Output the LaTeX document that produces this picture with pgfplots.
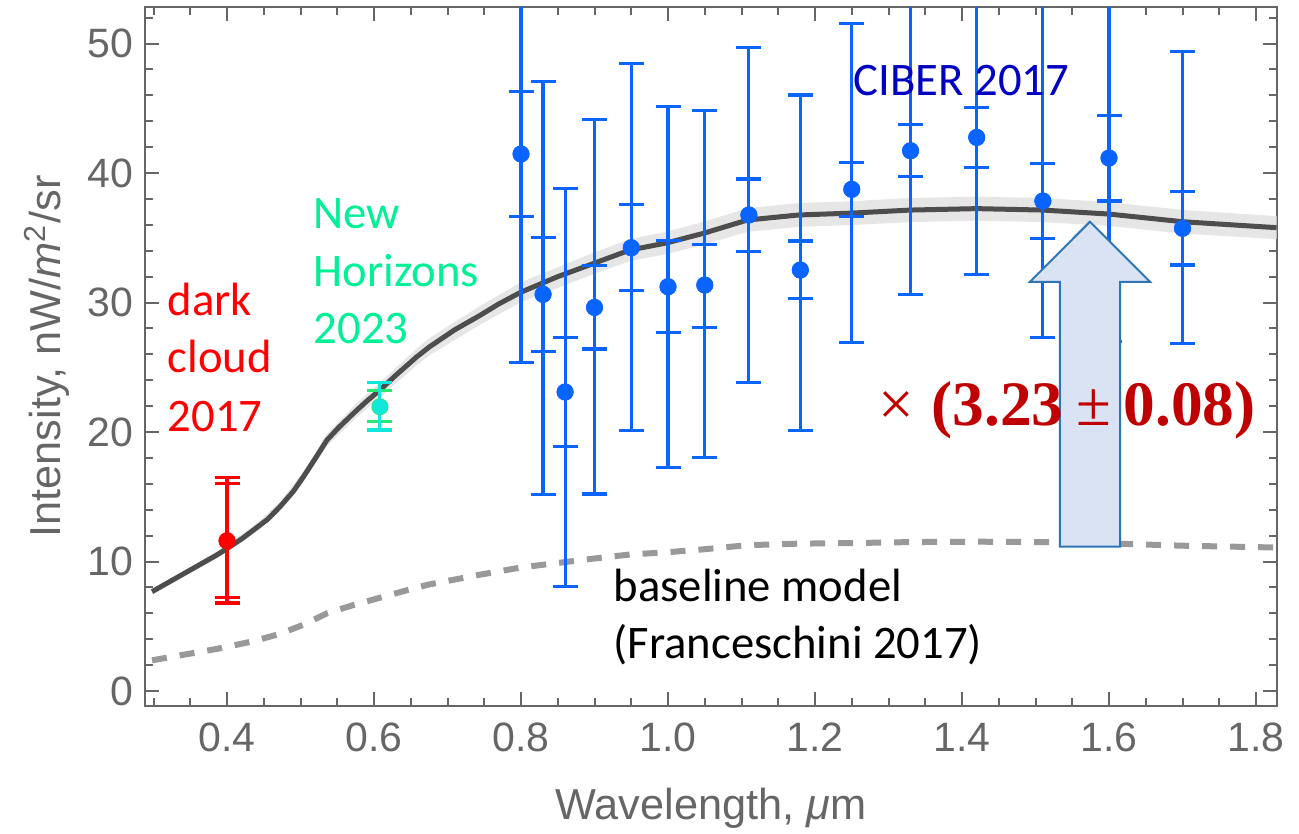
\documentclass[border=0pt]{standalone}
\usepackage{fontspec}
\setmainfont{Liberation Sans}
\newfontfamily\carlito{Carlito}
\newfontfamily\timesf{Liberation Serif}
\usepackage{pgfplots}
\pgfplotsset{compat=1.18}
\usepackage{pgfplotstable}

\definecolor{framegray}{HTML}{666666}
\definecolor{ciber}{HTML}{0A64FF}
\definecolor{curvegray}{HTML}{4D4D4D}
\definecolor{bandgray}{HTML}{E6E6E6}
\definecolor{dashgray}{HTML}{999999}
\definecolor{nhcyan}{HTML}{10E8DC}
\definecolor{nhgreen}{HTML}{28E870}
\definecolor{nhtext}{HTML}{00F096}
\definecolor{ciberdark}{HTML}{0000C0}
\definecolor{factorred}{HTML}{C00000}
\definecolor{arrowfill}{HTML}{DAE3F3}
\definecolor{arrowline}{HTML}{2E75B6}

% CIBER 2017: x, y, inner (+,-), outer (+,-)
\pgfplotstableread{
x    y     ip    im    op     om
0.80 41.47 4.81  4.84  16.10  16.09
0.83 30.63 4.40  4.43  16.45  15.43
0.86 23.09 4.21  4.22  15.72  15.03
0.90 29.62 3.22  3.21  14.50  14.41
0.95 34.23 3.32  3.32  14.24  14.13
1.00 31.22 3.55  3.52  13.90  13.97
1.05 31.35 3.15  3.25  13.51  13.35
1.11 36.76 2.78  2.84  12.92  12.96
1.18 32.51 2.24  2.19  13.51  12.41
1.25 38.74 2.09  2.11  12.82  11.81
1.33 41.72 2.01  2.01  11.78  11.09
1.42 42.75 2.29  2.31  11.25  10.60
1.51 37.84 2.91  2.91  17.16  10.53
1.60 41.16 3.29  3.32  14.84  14.16
1.70 35.73 2.83  2.83  13.64   8.88
}\ciberdata

\pgfplotsset{
  ebar/.style={only marks, mark=*, mark size=2.35pt,
    error bars/y dir=both, error bars/y explicit,
    error bars/error bar style={line width=0.95pt, #1},
    error bars/error mark options={rotate=90, mark size=3.75pt, line width=0.95pt, #1}},
}

\begin{document}
\begin{tikzpicture}
\path[use as bounding box] (-43.5pt,-38.1pt) rectangle (346.2pt,211.8pt);
\begin{axis}[
  scale only axis, width=339.6pt, height=209.7pt,
  xmin=0.2884, xmax=1.8286, ymin=-1.16, ymax=52.82,
  axis line style={framegray, line width=0.75pt},
  tick align=inside,
  xtick={0.4,0.6,0.8,1.0,1.2,1.4,1.6,1.8},
  xticklabels={0.4,0.6,0.8,1.0,1.2,1.4,1.6,1.8},
  minor xtick={0.3,0.35,0.45,0.5,0.55,0.65,0.7,0.75,0.85,0.9,0.95,1.05,1.1,1.15,1.25,1.3,1.35,1.45,1.5,1.55,1.65,1.7,1.75},
  ytick={0,10,20,30,40,50},
  yticklabels={0,10,20,30,40,50},
  minor ytick={2,4,6,8,12,14,16,18,22,24,26,28,32,34,36,38,42,44,46,48,52},
  major tick length=4.2pt, minor tick length=2.4pt,
  every tick/.style={framegray, line width=0.6pt},
  tick label style={font=\fontsize{12.3}{14}\selectfont, text=framegray},
  xticklabel style={yshift=-1.6pt},
  xlabel={Wavelength, \textit{μ}m},
  ylabel={Intensity, nW/\textit{m}\textsuperscript{2}/sr},
  xlabel style={at={(axis description cs:0.5,-0.1459)}, anchor=center, font=\fontsize{13}{15}\selectfont, text=framegray},
  ylabel style={at={(axis description cs:-0.0866,0.5)}, anchor=center, font=\fontsize{13}{15}\selectfont, text=framegray},
]
% uncertainty band of the scaled model
\addplot[fill=bandgray, draw=none] coordinates {
(0.298,7.86) (0.386,10.76) (0.400,11.28) (0.436,12.74) (0.472,14.59) (0.504,16.96) (0.536,19.86) (0.572,21.98) (0.608,23.82) (0.658,26.45) (0.676,27.27) (0.744,29.73) (0.800,31.57) (0.898,33.83) (0.948,34.90) (0.998,35.47) (1.048,36.22) (1.108,37.28) (1.178,37.68) (1.248,37.82) (1.330,38.07) (1.420,38.18) (1.510,38.07) (1.600,37.75) (1.700,37.15) (1.828,36.67)
(1.828,34.89) (1.700,35.33) (1.600,35.91) (1.510,36.21) (1.420,36.32) (1.330,36.21) (1.248,35.98) (1.178,35.84) (1.108,35.46) (1.048,34.46) (0.998,33.74) (0.948,33.20) (0.898,32.18) (0.800,30.03) (0.744,28.28) (0.676,25.94) (0.658,25.16) (0.608,22.66) (0.572,20.90) (0.536,18.90) (0.504,16.14) (0.472,13.87) (0.436,12.12) (0.400,10.73) (0.386,10.24) (0.298,7.48)
} -- cycle;
% scaled model
\addplot[curvegray, line width=1.5pt, line join=round] coordinates {
(0.298,7.67) (0.386,10.5) (0.400,11.0) (0.420,11.75) (0.436,12.43) (0.455,13.25) (0.472,14.23) (0.490,15.4) (0.504,16.55) (0.520,17.95) (0.536,19.38) (0.552,20.35) (0.572,21.44) (0.590,22.38) (0.608,23.24) (0.630,24.4) (0.658,25.8) (0.676,26.6) (0.710,27.9) (0.744,29.0) (0.770,29.9) (0.800,30.8) (0.850,32.0) (0.898,33.0) (0.948,34.05) (0.998,34.6) (1.048,35.34) (1.108,36.37) (1.178,36.76) (1.248,36.9) (1.330,37.14) (1.420,37.25) (1.510,37.14) (1.600,36.83) (1.700,36.24) (1.828,35.78)
};
% baseline model
\addplot[dashgray, line width=1.8pt, dash pattern=on 4.5pt off 3.9pt] coordinates {
(0.298,2.37) (0.386,3.25) (0.400,3.41) (0.436,3.85) (0.472,4.41) (0.504,5.12) (0.536,6.00) (0.572,6.64) (0.608,7.20) (0.658,7.99) (0.676,8.24) (0.744,8.98) (0.800,9.54) (0.898,10.22) (0.948,10.54) (0.998,10.71) (1.048,10.94) (1.108,11.26) (1.178,11.38) (1.248,11.42) (1.330,11.50) (1.420,11.53) (1.510,11.50) (1.600,11.40) (1.700,11.22) (1.828,11.08)
};
% dark cloud 2017
\addplot[red, ebar=red] coordinates {(0.4,11.6) += (0,4.4) -= (0,4.4)};
\addplot[red, ebar=red] coordinates {(0.4,11.6) += (0,4.9) -= (0,4.8)};
% New Horizons 2023
\addplot[nhgreen, ebar=nhgreen, mark=none] coordinates {(0.608,21.95) += (0,1.25) -= (0,1.15)};
\addplot[nhcyan, ebar=nhcyan, mark size=2.1pt] coordinates {(0.608,21.95) += (0,1.85) -= (0,1.8)};
% CIBER 2017
\addplot[ciber, ebar=ciber] table[x=x, y=y, y error plus=op, y error minus=om] {\ciberdata};
\addplot[ciber, ebar=ciber] table[x=x, y=y, y error plus=ip, y error minus=im] {\ciberdata};
% arrow
\addplot[fill=arrowfill, draw=arrowline, line width=0.6pt, line join=miter] coordinates {
(1.5333,11.14) (1.615,11.14) (1.615,31.6) (1.6558,31.6) (1.574,36.24) (1.4925,31.6) (1.5333,31.6)
} -- cycle;
% annotations
\node[anchor=base west, inner sep=0, text=factorred, font=\timesf\fontsize{19}{21}\selectfont] at (axis cs:1.285,20.54) {×\hspace{0.28em}{\bfseries(3.23}\hspace{0.2em}±\hspace{0.2em}{\bfseries 0.08)}};
\node[anchor=base west, inner sep=0, text=ciberdark, font=\carlito\fontsize{14}{17}\selectfont] at (axis cs:1.2517,46.02) {CIBER 2017};
\node[anchor=base west, inner sep=0, text=nhtext, font=\carlito\fontsize{14}{17}\selectfont] at (axis cs:0.517,35.68) {New};
\node[anchor=base west, inner sep=0, text=nhtext, font=\carlito\fontsize{14}{17}\selectfont] at (axis cs:0.517,31.2) {Horizons};
\node[anchor=base west, inner sep=0, text=nhtext, font=\carlito\fontsize{14}{17}\selectfont] at (axis cs:0.517,26.87) {2023};
\node[anchor=base west, inner sep=0, text=red, font=\carlito\fontsize{14}{17}\selectfont] at (axis cs:0.3184,28.96) {dark};
\node[anchor=base west, inner sep=0, text=red, font=\carlito\fontsize{14}{17}\selectfont] at (axis cs:0.3184,24.56) {cloud};
\node[anchor=base west, inner sep=0, text=red, font=\carlito\fontsize{14}{17}\selectfont] at (axis cs:0.3184,20.02) {2017};
\node[anchor=base west, inner sep=0, text=black, font=\carlito\fontsize{14}{17}\selectfont] at (axis cs:0.9252,6.9) {baseline model};
\node[anchor=base west, inner sep=0, text=black, font=\carlito\fontsize{14}{17}\selectfont] at (axis cs:0.9252,2.52) {(Franceschini 2017)};
\end{axis}
\end{tikzpicture}
\end{document}
